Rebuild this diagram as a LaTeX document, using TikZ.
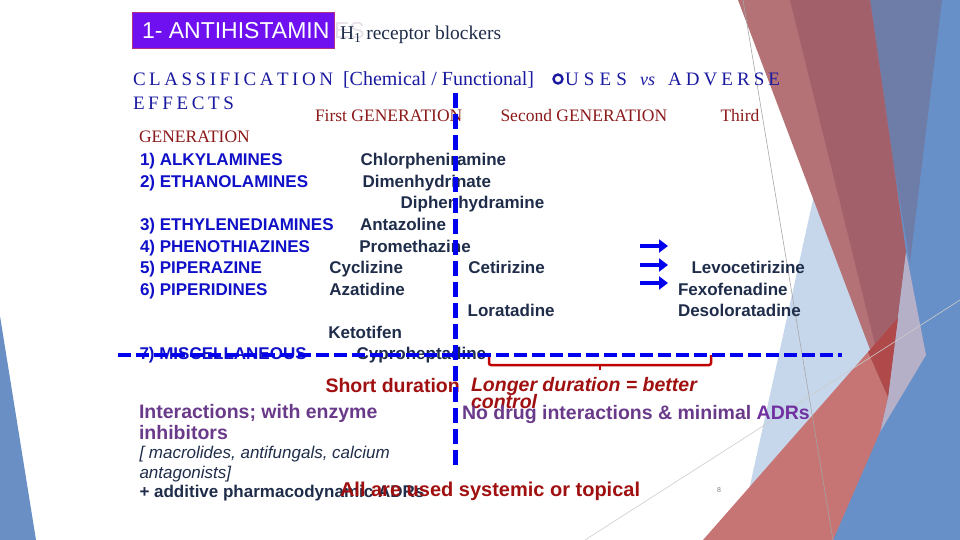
\documentclass[tikz,border=0pt]{standalone}
\usepackage{fontspec}
\setmainfont{Liberation Serif}
\newfontfamily\arial{Liberation Sans}
\usetikzlibrary{arrows.meta}
\makeatletter
\def\sp@read#1{\ifx#1\relax\else\hfill#1\expandafter\sp@read\fi}
\def\sp@first#1{#1\sp@read}
\newcommand\spreadword[2]{\makebox[#1][s]{\sp@first#2\relax}}
\makeatother
\definecolor{navy}{HTML}{1F2D4A}
\definecolor{listblue}{HTML}{1010C8}
\definecolor{dashblue}{HTML}{0000EE}
\definecolor{serifred}{HTML}{8C1A1A}
\definecolor{boldred}{HTML}{A01010}
\definecolor{clsblue}{HTML}{1A1AA0}
\definecolor{purp}{HTML}{6A3A8A}
\definecolor{purp2}{HTML}{7030A0}
\definecolor{titlefill}{HTML}{6E10F0}
\definecolor{titleborder}{HTML}{B0308A}
\definecolor{decoblue}{HTML}{6A8FC4}
\definecolor{rightblue}{HTML}{6890C8}
\definecolor{slate}{HTML}{6E7CA8}
\definecolor{paleblue}{HTML}{C6D7EC}
\definecolor{redA}{HTML}{B47276}
\definecolor{redB}{HTML}{A2606A}
\definecolor{mauve}{HTML}{B5AFC8}
\definecolor{salmon}{HTML}{C67474}
\definecolor{darkred}{HTML}{B04A4A}
\definecolor{bracketred}{HTML}{C00000}
\begin{document}
\begin{tikzpicture}[x=1pt,y=-1pt,
  txt/.style={anchor=base west, inner sep=0pt, outer sep=0pt},
  listitem/.style={txt, font=\arial\bfseries\fontsize{17}{20}\selectfont, text=listblue},
  drug/.style={txt, font=\arial\bfseries\fontsize{17}{20}\selectfont, text=navy},
  gen/.style={txt, font=\fontsize{17.5}{20}\selectfont, text=serifred},
  cls/.style={txt, font=\fontsize{19}{22}\selectfont, text=clsblue},
  big/.style={txt, font=\arial\bfseries\fontsize{19.5}{22}\selectfont},
  vdash/.style={draw=dashblue, line width=5pt, dash pattern=on 15pt off 6pt},
  hdash/.style={draw=dashblue, line width=4pt, dash pattern=on 13pt off 5pt},
  bluearrow/.style={draw=dashblue, line width=3.5pt, -{Triangle[length=9pt,width=13pt]}},
  bracket/.style={draw=bracketred, line width=2.5pt, rounded corners=2pt},
  thin/.style={draw=gray!70, line width=0.6pt}
]
\fill[white] (0,0) rectangle (960,540);
\useasboundingbox (0,0) rectangle (960,540);
% decoration
\fill[decoblue] (0,316) -- (0,540) -- (36,540) -- cycle;
\fill[rightblue] (858,0) -- (960,0) -- (960,540) -- (820,540) -- (880,340) -- cycle;
\fill[slate] (866,0) -- (942,0) -- (910,262) -- cycle;
\fill[paleblue] (814,195) -- (880,345) -- (833,540) -- (738,540) -- cycle;
\fill[redA] (738,0) -- (870,0) -- (906,252) -- (888,397) -- cycle;
\fill[redB] (790,0) -- (870,0) -- (906,252) -- (888,397) -- cycle;
\fill[mauve] (906,252) -- (926,355) -- (880,432) -- (888,397) -- cycle;
\fill[salmon] (703,540) -- (868,352) -- (888,397) -- (880,432) -- (833,540) -- cycle;
\fill[darkred] (868,352) -- (898,318) -- (888,397) -- cycle;
\draw[thin] (743,0) -- (833,540);
\draw[thin, draw=gray!40] (585,540) -- (960,300);
% title
\node[draw=titleborder, line width=0.8pt, fill=titlefill, minimum width=202pt, minimum height=36pt, inner sep=0pt, anchor=north west] (title) at (132,12) {};
\node[txt, font=\arial\fontsize{23}{25}\selectfont, text=white] (titletext) at (142,38.3) {1- ANTIHISTAMIN};
\node[txt, font=\arial\fontsize{23}{25}\selectfont, text={rgb,255:red,232;green,224;blue,232}] (es) at (334,38.3) {ES};
\node[txt, font=\fontsize{19.5}{22}\selectfont, text=navy] (h1) at (340,39.5) {H\textsubscript{1} receptor blockers};
% classification
\node[cls] (c1) at (133,85.5) {\spreadword{200pt}{CLASSIFICATION}};
\node[txt, font=\fontsize{20}{22}\selectfont, text=clsblue] (c2) at (343,85.5) {[Chemical / Functional]};
\node[draw=clsblue, line width=2.4pt, circle, minimum size=9pt, inner sep=0pt] (ring) at (558,79) {};
\node[cls] (c3) at (565,85.5) {\spreadword{62pt}{USES}};
\node[cls, font=\itshape\fontsize{18}{22}\selectfont] (c4) at (640,85.5) {vs};
\node[cls] (c5) at (668,85.5) {\spreadword{112pt}{ADVERSE}};
\node[cls] (c6) at (133,109.5) {\spreadword{101pt}{EFFECTS}};
% generations
\node[gen] (g1) at (315,122) {First GENERATION};
\node[gen] (g2) at (500.5,122) {Second GENERATION};
\node[gen] (g3) at (720.5,122) {Third};
\node[gen] (g4) at (139,143) {GENERATION};
% classes
\node[listitem] (l1) at (140,165) {1) ALKYLAMINES};
\node[listitem] (l2) at (140,187) {2) ETHANOLAMINES};
\node[listitem] (l3) at (140,230) {3) ETHYLENEDIAMINES};
\node[listitem] (l4) at (140,252) {4) PHENOTHIAZINES};
\node[listitem] (l5) at (140,273) {5) PIPERAZINE};
\node[listitem] (l6) at (140,295) {6) PIPERIDINES};
\node[listitem] (l7) at (139.5,359.5) {7) MISCELLANEOUS};
% drugs
\node[drug] (d1) at (360.7,165) {Chlorpheniramine};
\node[drug] (d2) at (362.5,187) {Dimenhydrinate};
\node[drug] (d3) at (400.7,208) {Diphenhydramine};
\node[drug] (d4) at (360,230) {Antazoline};
\node[drug] (d5) at (359.3,252) {Promethazine};
\node[drug] (d6) at (329.3,273) {Cyclizine};
\node[drug] (d7) at (329.3,295) {Azatidine};
\node[drug] (d8) at (328.3,338) {Ketotifen};
\node[drug] (d9) at (356.7,359.5) {Cyproheptadine};
\node[drug] (e1) at (468.3,273) {Cetirizine};
\node[drug] (e2) at (467.7,316) {Loratadine};
\node[drug] (f1) at (691.5,273) {Levocetirizine};
\node[drug] (f2) at (678,295) {Fexofenadine};
\node[drug] (f3) at (678,316) {Desoloratadine};
% arrows
\coordinate (a1s) at (640,246); \coordinate (a1e) at (668,246);
\coordinate (a2s) at (640,265); \coordinate (a2e) at (668,265);
\coordinate (a3s) at (640,283); \coordinate (a3e) at (668,283);
\draw[bluearrow] (a1s) -- (a1e);
\draw[bluearrow] (a2s) -- (a2e);
\draw[bluearrow] (a3s) -- (a3e);
% lower texts
\node[big, text=boldred] (short) at (325.5,392) {Short duration};
\node[big, font=\arial\bfseries\itshape\fontsize{19.5}{22}\selectfont, text=boldred] (longer) at (471,391) {Longer duration = better};
\node[big, font=\arial\bfseries\itshape\fontsize{19.5}{22}\selectfont, text=boldred] (control) at (471,408.5) {control};
\node[big, text=purp] (inter) at (139,418) {Interactions; with enzyme};
\node[big, text=purp] (inhib) at (139,439) {inhibitors};
\node[big, text=purp] (nodrug) at (462,419) {No drug interactions \& minimal \textcolor{purp2}{ADRs}};
\node[txt, font=\arial\itshape\fontsize{17}{20}\selectfont, text=navy] (macro) at (139.5,458) {[ macrolides, antifungals, calcium};
\node[txt, font=\arial\itshape\fontsize{17}{20}\selectfont, text=navy] (antag) at (139.5,478) {antagonists]};
\node[drug] (additive) at (139.5,497) {+ additive pharmacodynamic ADRs};
\node[big, font=\arial\bfseries\fontsize{20}{22}\selectfont, text=boldred] (allare) at (340,496) {All are used systemic or topical};
\node[txt, font=\arial\fontsize{7}{8}\selectfont, text=gray] (pg) at (717,492) {8};
% bracket
\coordinate (bl) at (489,355); \coordinate (br) at (711,355); \coordinate (bm) at (600,365);
\draw[bracket] (bl) -- ++(0,10) -| (br);
\draw[bracket] (bm) -- ++(0,5);
% dashed lines
\coordinate (vtop) at (455,93); \coordinate (vbot) at (455,469);
\draw[vdash] (vtop) -- (vbot);
\coordinate (hl) at (118,355); \coordinate (hr) at (842,355);
\draw[hdash] (hl) -- (hr);
\end{tikzpicture}
\end{document}
